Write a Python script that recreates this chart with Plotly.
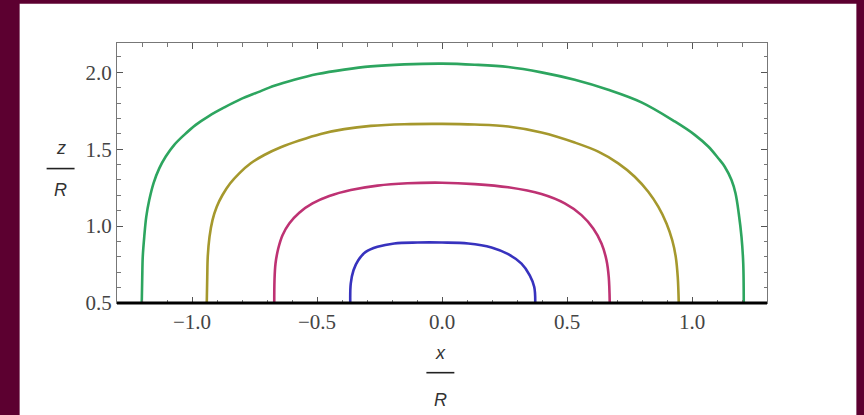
import plotly.graph_objects as go

# Field-line profiles z/R versus x/R, traced left to right
x_blue = [-0.367, -0.365, -0.354, -0.335, -0.305, -0.258, -0.191, -0.098, 0.0,
          0.105, 0.198, 0.265, 0.318, 0.351, 0.369, 0.373]
z_blue = [0.5, 0.626, 0.713, 0.778, 0.832, 0.865, 0.887, 0.893, 0.893,
          0.887, 0.861, 0.817, 0.756, 0.680, 0.604, 0.5]

x_magenta = [-0.671, -0.670, -0.666, -0.655, -0.638, -0.611, -0.571, -0.518, -0.451,
             -0.365, -0.258, -0.138, 0.0, 0.131, 0.265, 0.398, 0.491, 0.558,
             0.605, 0.638, 0.658, 0.667, 0.671]
z_magenta = [0.5, 0.648, 0.756, 0.854, 0.941, 1.017, 1.087, 1.147, 1.195,
             1.234, 1.263, 1.278, 1.282, 1.273, 1.252, 1.208, 1.147, 1.071,
             0.984, 0.887, 0.778, 0.669, 0.5]

x_olive = [-0.941, -0.939, -0.937, -0.930, -0.918, -0.901, -0.878, -0.847, -0.811,
           -0.765, -0.711, -0.645, -0.571, -0.485, -0.391, -0.285, -0.151, 0.0,
           0.131, 0.265, 0.398, 0.531, 0.625, 0.705, 0.771, 0.825, 0.865, 0.898,
           0.921, 0.935, 0.943, 0.947]
z_olive = [0.5, 0.669, 0.800, 0.930, 1.039, 1.126, 1.202, 1.278, 1.343,
           1.408, 1.462, 1.512, 1.556, 1.599, 1.630, 1.651, 1.662, 1.664,
           1.660, 1.647, 1.608, 1.543, 1.484, 1.408, 1.321, 1.223, 1.126, 1.017,
           0.908, 0.800, 0.669, 0.5]

x_green = [-1.201, -1.199, -1.197, -1.191, -1.183, -1.171, -1.154, -1.131, -1.105,
           -1.071, -1.031, -0.985, -0.931, -0.871, -0.805, -0.738, -0.671, -0.591,
           -0.498, -0.391, -0.285, -0.151, 0.0, 0.131, 0.265, 0.398, 0.531, 0.665,
           0.798, 0.931, 1.011, 1.065, 1.105, 1.131, 1.158, 1.174, 1.187, 1.198,
           1.205, 1.207]
z_green = [0.5, 0.669, 0.800, 0.930, 1.060, 1.169, 1.278, 1.375, 1.452,
           1.528, 1.593, 1.658, 1.717, 1.771, 1.825, 1.869, 1.912, 1.951,
           1.988, 2.017, 2.038, 2.051, 2.056, 2.049, 2.034, 1.999, 1.951, 1.886,
           1.804, 1.680, 1.593, 1.517, 1.441, 1.386, 1.299, 1.213, 1.082, 0.930,
           0.756, 0.5]

x_ticks = [-1.0, -0.5, 0.0, 0.5, 1.0]
y_ticks = [0.5, 1.0, 1.5, 2.0]

series = [
    (x_blue, z_blue, "rgb(55,50,190)"),
    (x_magenta, z_magenta, "rgb(190,50,115)"),
    (x_olive, z_olive, "rgb(165,152,45)"),
    (x_green, z_green, "rgb(45,165,95)"),
]

fig = go.Figure()
for xs, zs, col in series:
    fig.add_trace(go.Scatter(
        x=xs, y=zs, mode="lines",
        line=dict(color=col, width=2.6, shape="spline", smoothing=1.0),
        showlegend=False, hoverinfo="skip",
    ))

tick_font = dict(family="Liberation Serif, Times New Roman, serif", size=21, color="#444")
frame = "#777"

fig.update_xaxes(
    range=[-1.3, 1.3], tickvals=x_ticks, ticktext=[f"{v:.1f}".replace("-", "\u2212") for v in x_ticks],
    tickfont=tick_font, showgrid=False, zeroline=False,
    showline=True, linecolor=frame, linewidth=1, mirror="allticks",
    ticks="inside", ticklen=6, tickcolor="#555", tickwidth=1,
    minor=dict(dtick=0.1, tick0=0, ticks="inside", ticklen=3.5, tickcolor="#777", showgrid=False),
)
fig.update_yaxes(
    range=[0.5, 2.19], tickvals=y_ticks, ticktext=[f"{v:.1f}" for v in y_ticks],
    tickfont=tick_font, showgrid=False, zeroline=False,
    showline=True, linecolor=frame, linewidth=1, mirror="allticks",
    ticks="inside", ticklen=6, tickcolor="#555", tickwidth=1,
    minor=dict(dtick=0.1, tick0=0, ticks="inside", ticklen=3.5, tickcolor="#777", showgrid=False),
)

title_font = dict(family="Liberation Sans, Arial, sans-serif", size=18, color="#333")


def title_part(text, x, y):
    return dict(text=text, xref="paper", yref="paper", x=x, y=y, xanchor="center",
                yanchor="middle", showarrow=False, font=title_font)


fig.update_layout(
    width=864, height=415,
    margin=dict(l=116.5, r=96.5, t=43.3, b=111.7),
    paper_bgcolor="#5c0030", plot_bgcolor="white",
    shapes=[
        # white slide panel behind the plot
        dict(type="rect", xref="paper", yref="paper", x0=-0.1498, x1=1.1375, y0=-0.5, y1=1.151,
             fillcolor="white", line=dict(width=0), layer="below"),
        # heavy axis line along the bottom edge
        dict(type="line", xref="x domain", yref="y domain", x0=0, x1=1, y0=0, y1=0,
             line=dict(color="black", width=3.2), layer="above"),
        # fraction bars of the axis titles
        dict(type="line", xref="paper", yref="paper", x0=0.476, x1=0.519, y0=-0.268, y1=-0.268,
             line=dict(color="#222", width=1.6)),
        dict(type="line", xref="paper", yref="paper", x0=-0.1083, x1=-0.0653, y0=0.517, y1=0.517,
             line=dict(color="#222", width=1.6)),
    ],
    annotations=[
        title_part("<i>x</i>", 0.497, -0.191),
        title_part("<i>R</i>", 0.497, -0.372),
        title_part("<i>z</i>", -0.0868, 0.597),
        title_part("<i>R</i>", -0.0868, 0.436),
    ],
)

fig.write_html("out.html")
